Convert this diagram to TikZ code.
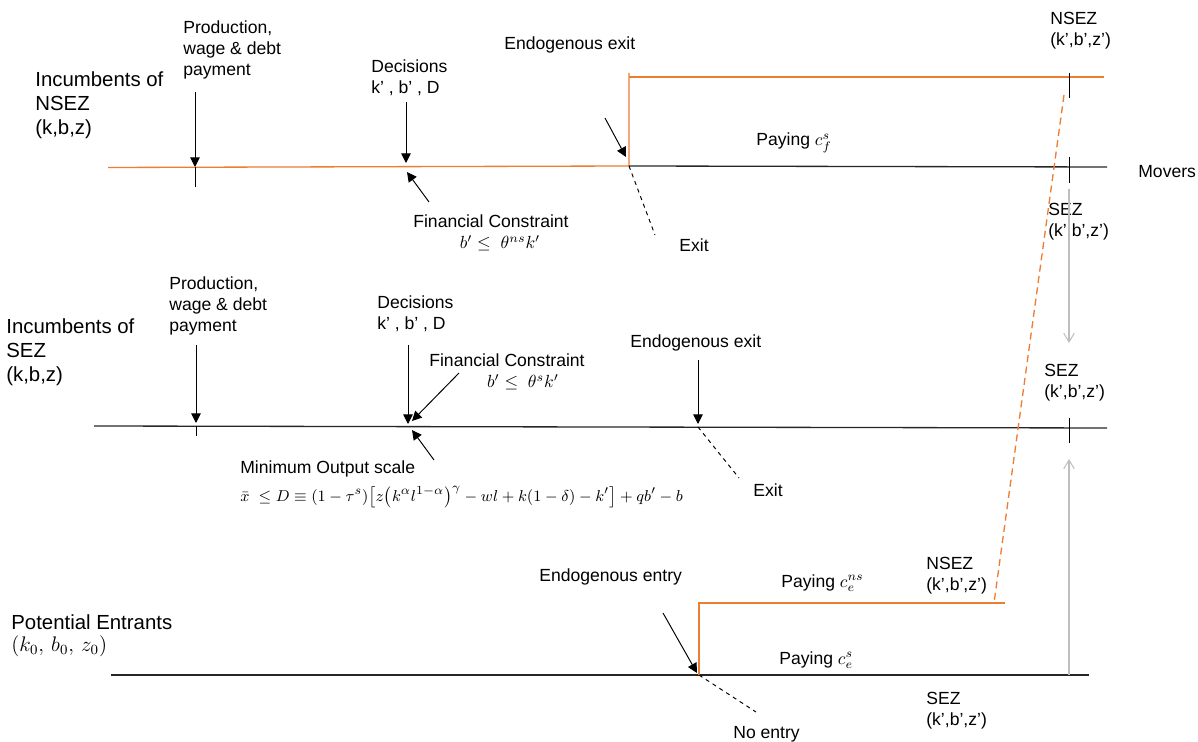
\documentclass[tikz,border=0pt]{standalone}
\usepackage{fontspec}
\setmainfont{Liberation Sans}
\usetikzlibrary{arrows.meta}
\definecolor{lineorange}{RGB}{237,125,49}
\definecolor{movegray}{RGB}{190,190,190}
\tikzset{
  lbl/.style={font=\fontsize{10}{11.8}\selectfont, inner sep=0pt, align=left, anchor=west},
  biglbl/.style={font=\fontsize{11.6}{13.7}\selectfont, inner sep=0pt, align=left, anchor=west},
  timeline/.style={line width=0.75pt, black!85},
  orangeline/.style={line width=0.75pt, lineorange},
  orangedash/.style={line width=0.75pt, lineorange, dash pattern=on 4pt off 2.5pt},
  event/.style={line width=0.55pt, -{Triangle[length=5.5pt,width=5.5pt]}},
  exitline/.style={line width=0.55pt, dash pattern=on 2.3pt off 2.3pt},
  tick/.style={line width=0.5pt},
  movearrow/.style={line width=0.6pt, movegray, -{Straight Barb[length=5pt,width=6pt]}}
}
\begin{document}
\begin{tikzpicture}[x=0.02cm, y=-0.02cm]
  \useasboundingbox (0,0) rectangle (1198,742);

  % ---------- Incumbents of NSEZ ----------
  \coordinate (n1start) at (108,167.5);
  \coordinate (n1prod) at (195,167);
  \coordinate (n1dec) at (406,166.5);
  \coordinate (n1exit) at (629,166);
  \coordinate (n1top) at (629,73);
  \coordinate (n1topend) at (1104,77);
  \coordinate (n1end) at (1107,167);

  % orange path: stay in NSEZ, or move up when paying c_f^s
  \draw[orangeline] (n1start) -- (n1exit) -- (n1top);
  \draw[orangeline] (629,77) -- (n1topend);
  \draw[timeline] (n1exit) -- (n1end);

  % ticks
  \draw[tick] (n1prod) -- (195,187);
  \draw[tick] (1069,73) -- (1069,98);
  \draw[tick] (1069,157) -- (1069,183);

  % event arrows
  \coordinate (n1prodtop) at (195,92);
  \coordinate (n1dectop) at (406,102);
  \coordinate (n1fcfoot) at (429,202);
  \coordinate (n1fctip) at (407,172);
  \coordinate (n1exittop) at (605,118);
  \coordinate (n1exittip) at (626,157);
  \coordinate (n1exitfoot) at (655,235);
  \draw[event] (n1prodtop) -- (n1prod);
  \draw[event] (n1dectop) -- (406,163);
  \draw[event] (n1fcfoot) -- (n1fctip);
  \draw[event] (n1exittop) -- (n1exittip);
  \draw[exitline] (n1exit) -- (n1exitfoot);

  % labels
  \node[biglbl] (n1name) at (35,105) {Incumbents of\\NSEZ\\(k,b,z)};
  \node[lbl] (n1prodlbl) at (183,50) {Production,\\wage \& debt\\payment};
  \node[lbl] (n1declbl) at (371,78) {Decisions\\k' , b' , D};
  \node[lbl] (n1fclbl) at (413,221) {Financial Constraint};
  \node[lbl, anchor=center] (n1fcmath) at (500,243) {$b' \le\ \theta^{ns}k'$};
  \node[lbl] (n1exitlbl) at (504,45) {Endogenous exit};
  \node[lbl] (n1exitword) at (679,245) {Exit};
  \node[lbl] (n1pay) at (756,143) {Paying $c_f^s$};
  \node[lbl] (n1nsez) at (1050,31) {NSEZ\\(k’,b’,z’)};
  \node[lbl] (n1movers) at (1138,172) {Movers};
  \node[lbl] (n1sez) at (1048,222) {SEZ\\(k’,b’,z’)};

  % ---------- Incumbents of SEZ ----------
  \coordinate (n2start) at (94,426);
  \coordinate (n2prod) at (196,426);
  \coordinate (n2dec) at (408,426.5);
  \coordinate (n2exit) at (698,427);
  \coordinate (n2end) at (1107,428);
  \draw[timeline] (n2start) -- (n2end);

  \draw[tick] (n2prod) -- (196,436);
  \draw[tick] (1069,418) -- (1069,443);

  \coordinate (n2prodtop) at (196,345);
  \coordinate (n2dectop) at (408,345);
  \coordinate (n2fcfoot) at (459,373);
  \coordinate (n2fctip) at (412,421);
  \coordinate (n2minfoot) at (434,460);
  \coordinate (n2mintip) at (412,430);
  \coordinate (n2exittop) at (698,360);
  \coordinate (n2exitfoot) at (739,478);
  \draw[event] (n2prodtop) -- (196,423);
  \draw[event] (n2dectop) -- (408,424);
  \draw[event] (n2fcfoot) -- (n2fctip);
  \draw[event] (n2minfoot) -- (n2mintip);
  \draw[event] (n2exittop) -- (698,424);
  \draw[exitline] (n2exit) -- (n2exitfoot);

  \node[biglbl] (n2name) at (6,352) {Incumbents of\\SEZ\\(k,b,z)};
  \node[lbl] (n2prodlbl) at (169,306) {Production,\\wage \& debt\\payment};
  \node[lbl] (n2declbl) at (377,314) {Decisions\\k' , b' , D};
  \node[lbl] (n2fclbl) at (429,360) {Financial Constraint};
  \node[lbl, anchor=center] (n2fcmath) at (523,382) {$b' \le\ \theta^{s}k'$};
  \node[lbl] (n2exitlbl) at (630,343) {Endogenous exit};
  \node[lbl] (n2minlbl) at (240,469) {Minimum Output scale};
  \node[lbl, font=\fontsize{9.3}{11}\selectfont] (n2minmath) at (240,497) {$\bar{x}\ \le D \equiv (1-\tau^s)\bigl[z\bigl(k^{\alpha}l^{1-\alpha}\bigr)^{\gamma} - wl + k(1-\delta) - k'\bigr] + qb' - b$};
  \node[lbl] (n2exitword) at (753,490) {Exit};
  \node[lbl] (n2sez) at (1044,383) {SEZ\\(k’,b’,z’)};

  % ---------- Potential Entrants ----------
  \coordinate (n3start) at (111,675);
  \coordinate (n3entry) at (699,675);
  \coordinate (n3up) at (699,603);
  \coordinate (n3upend) at (1005,603);
  \coordinate (n3end) at (1089,675);
  \draw[timeline] (n3start) -- (n3end);
  \draw[orangeline] (n3entry) -- (n3up) -- (n3upend);

  \coordinate (n3entrytop) at (663,613);
  \coordinate (n3entryfoot) at (756,712);
  \draw[event] (n3entrytop) -- (697,673);
  \draw[exitline] (n3entry) -- (n3entryfoot);

  \node[biglbl] (n3name) at (11,622) {Potential Entrants};
  \node[biglbl] (n3state) at (11,646) {$(k_0,\, b_0,\, z_0)$};
  \node[lbl] (n3entrylbl) at (539,577) {Endogenous entry};
  \node[lbl] (n3payns) at (781,583) {Paying $c_e^{ns}$};
  \node[lbl] (n3nsez) at (926,576) {NSEZ\\(k’,b’,z’)};
  \node[lbl] (n3pays) at (779,660) {Paying $c_e^{s}$};
  \node[lbl] (n3sez) at (926,711) {SEZ\\(k’,b’,z’)};
  \node[lbl] (n3noentry) at (733,734) {No entry};

  % ---------- movements between zones ----------
  \coordinate (mvtop) at (1064,95);
  \coordinate (mvbot) at (994,603);
  \draw[orangedash] (mvtop) -- (mvbot);
  \coordinate (mvdownfrom) at (1069,189);
  \coordinate (mvdownto) at (1069,343);
  \coordinate (mvupfrom) at (1069,675);
  \coordinate (mvupto) at (1069,459);
  \draw[movearrow] (mvdownfrom) -- (mvdownto);
  \draw[movearrow] (mvupfrom) -- (mvupto);
\end{tikzpicture}
\end{document}
